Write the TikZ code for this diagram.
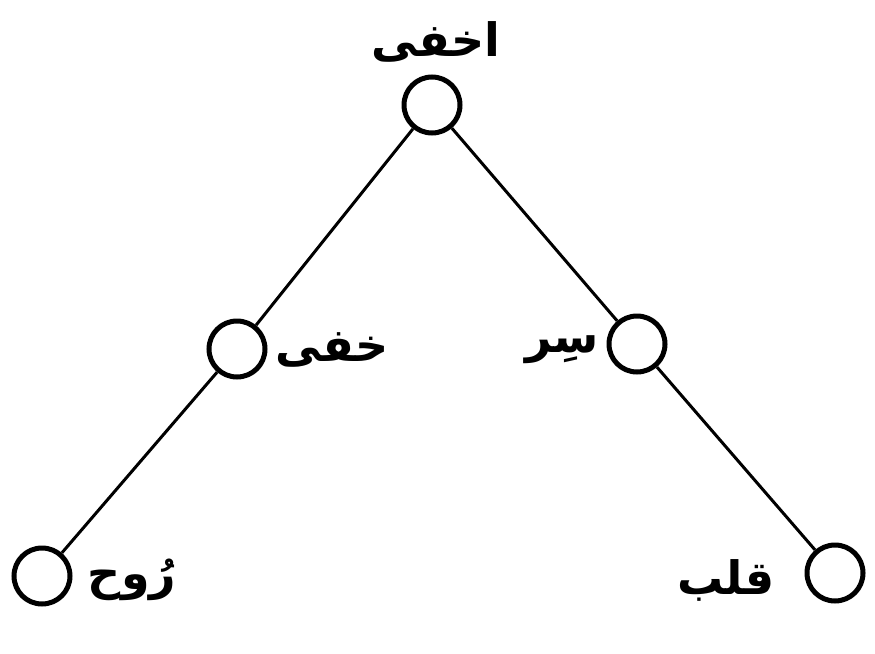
\documentclass[tikz,border=0pt]{standalone}
\usepackage{fontspec}
\newfontfamily\arabicfont[Script=Arabic]{DejaVu Sans}
\TeXXeTstate=1
\begin{document}
\begin{tikzpicture}[x=1pt,y=-1pt,
  dot/.style={circle,draw,line width=5pt,minimum size=56pt,inner sep=0pt},
  lbl/.style={font=\arabicfont\bfseries\fontsize{46}{50}\selectfont,inner sep=0pt},
  link/.style={line width=3pt}]
\useasboundingbox (0,0) rectangle (875,653);
\node[dot] (top) at (432,105) {};
\node[dot] (ml) at (237,349) {};
\node[dot] (mr) at (637,344) {};
\node[dot] (bl) at (42,576) {};
\node[dot] (br) at (835,573) {};
\draw[link] (top) -- (ml);
\draw[link] (top) -- (mr);
\draw[link] (ml) -- (bl);
\draw[link] (mr) -- (br);
\node[lbl] (t1) at (436,42) {\beginR اخفی\endR};
\node[lbl] (t2) at (332,350) {\beginR خفی\endR};
\node[lbl] (t3) at (562,350) {\beginR سِر\endR};
\node[lbl] (t4) at (132,580) {\beginR رُوح\endR};
\node[lbl] (t5) at (726,580) {\beginR قلب\endR};
\end{tikzpicture}
\end{document}
